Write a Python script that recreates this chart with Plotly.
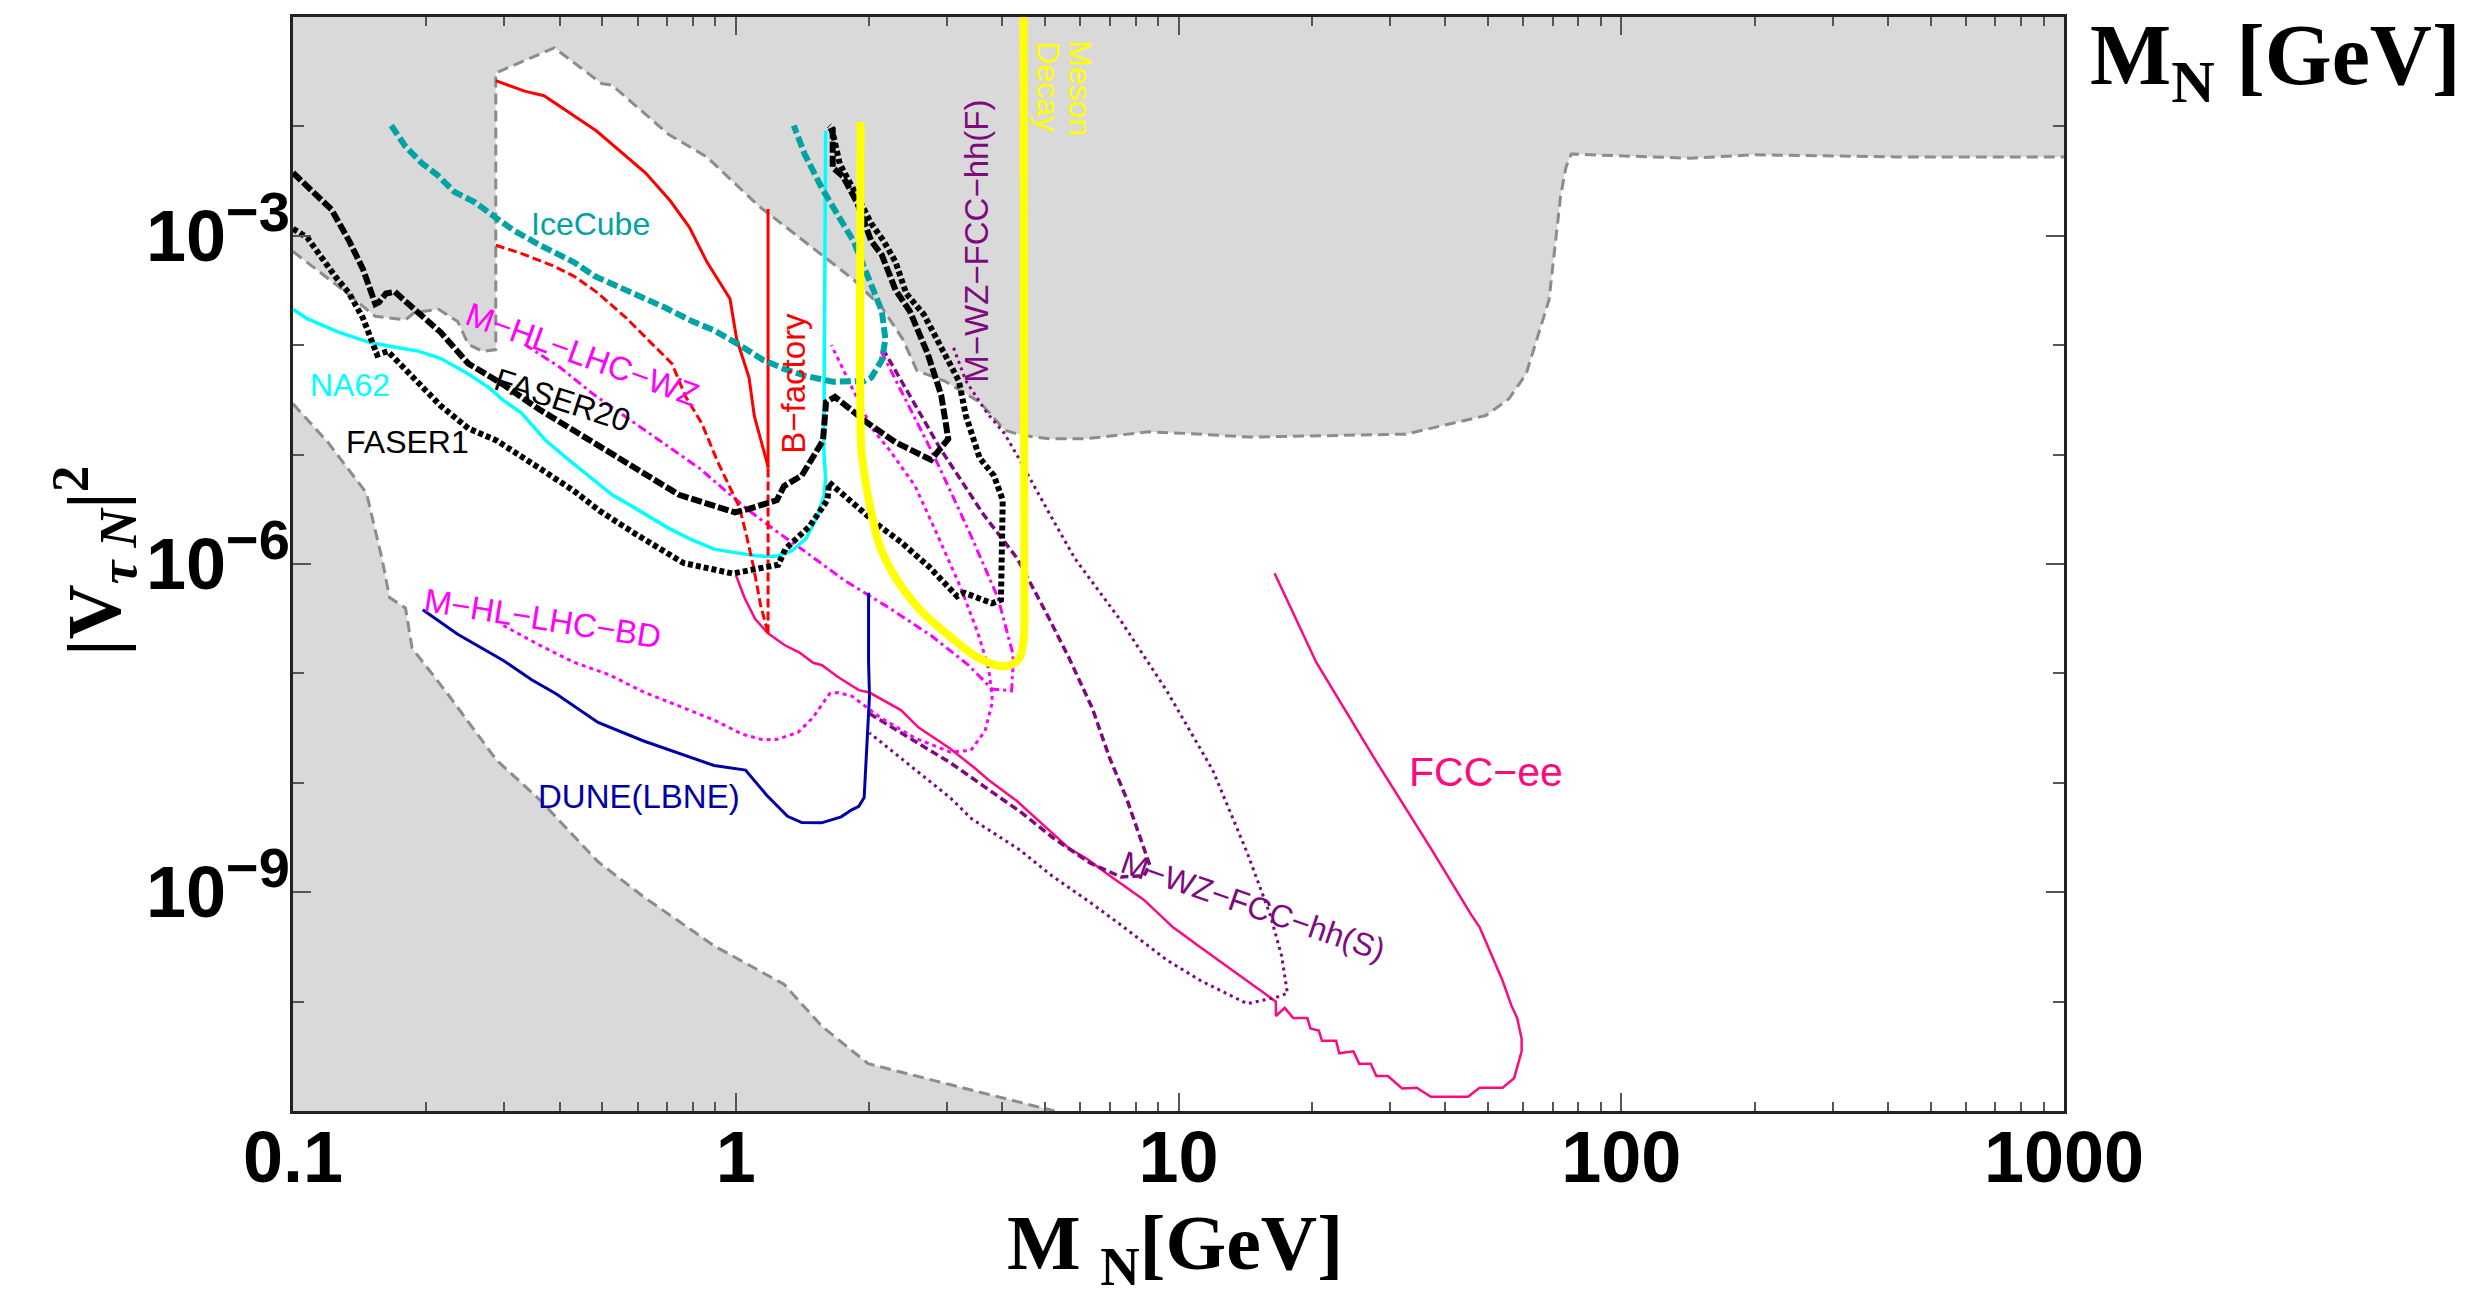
import plotly.graph_objects as go

# Curves are stored as log10(M_N / GeV) and log10(|V_tauN|^2) pairs.

# Excluded region (upper grey band): lower edge of the band
UPPER_LM = [-1.0, -0.897, -0.814, -0.746, -0.727, -0.671, -0.628, -0.604, -0.572, -0.542,
            -0.542, -0.410, -0.303, -0.279, -0.152, -0.065, 0.052, 0.203, 0.266, 0.330,
            0.377, 0.409, 0.472, 0.551, 0.607, 0.646, 0.710, 0.789, 0.932, 1.027, 1.160,
            1.513, 1.694, 1.746, 1.785, 1.837, 1.863, 1.875, 1.887, 2.156, 2.297, 2.625, 3.0]
UPPER_LV = [-3.144, -3.464, -3.736, -3.768, -3.704, -3.672, -3.784, -3.992, -4.056, -4.04,
            -1.512, -1.282, -1.608, -1.624, -2.072, -2.28, -2.728, -3.208, -3.40, -3.656,
            -3.944, -4.232, -4.328, -4.52, -4.776, -4.824, -4.856, -4.856, -4.792, -4.808, -4.84,
            -4.813, -4.643, -4.492, -4.265, -3.584, -2.639, -2.374, -2.253, -2.291, -2.260, -2.279, -2.279]

# Excluded region (lower-left grey band): upper edge of the band
LOWER_LM = [-1.0, -0.921, -0.834, -0.798, -0.782, -0.746, -0.731, -0.651, -0.540, -0.445,
            -0.311, -0.208, -0.049, 0.109, 0.195, 0.299, 0.481, 0.72]
LOWER_LV = [-4.536, -4.888, -5.352, -5.97, -6.306, -6.402, -6.77, -7.186, -7.794, -8.146,
            -8.722, -9.042, -9.49, -9.842, -10.227, -10.567, -10.756, -11.0]

ICECUBE_LM = [-0.778, -0.746, -0.707, -0.675, -0.635, -0.588, -0.540, -0.501, -0.445, -0.366,
              -0.319, -0.255, -0.208, -0.160, -0.097, -0.049, 0.006, 0.062, 0.109, 0.157,
              0.219, 0.290, 0.306, 0.330, 0.338, 0.330, 0.298, 0.266, 0.242, 0.195, 0.155, 0.131]
ICECUBE_LV = [-1.992, -2.184, -2.344, -2.44, -2.6, -2.696, -2.84, -2.952, -3.08, -3.24,
              -3.368, -3.48, -3.56, -3.656, -3.784, -3.864, -3.992, -4.136, -4.216, -4.28,
              -4.334, -4.328, -4.296, -4.136, -3.944, -3.688, -3.368, -3.048, -2.888, -2.568, -2.248, -1.992]

NA62_LM = [-1.0, -0.968, -0.897, -0.826, -0.762, -0.715, -0.667, -0.604, -0.556, -0.525,
           -0.485, -0.429, -0.382, -0.342, -0.311, -0.279, -0.231, -0.192, -0.152, -0.105,
           -0.049, -0.002, 0.054, 0.093, 0.127, 0.159, 0.183, 0.199, 0.203, 0.199, 0.201, 0.203]
NA62_LV = [-3.672, -3.758, -3.88, -3.976, -4.024, -4.056, -4.12, -4.264, -4.392, -4.504,
           -4.616, -4.872, -5.032, -5.16, -5.256, -5.368, -5.48, -5.576, -5.672, -5.768,
           -5.864, -5.896, -5.928, -5.93, -5.879, -5.767, -5.575, -5.383, -5.223, -4.967, -3.88, -2.04]

FASER20_LM = [-1.0, -0.913, -0.873, -0.842, -0.814, -0.806, -0.790, -0.770, -0.739, -0.667,
              -0.604, -0.525, -0.445, -0.366, -0.287, -0.208, -0.128, -0.065, -0.002, 0.030,
              0.093, 0.109, 0.149, 0.197, 0.204, 0.224, 0.298, 0.361, 0.441, 0.480, 0.464,
              0.433, 0.393, 0.361, 0.330, 0.306, 0.274, 0.242, 0.219, 0.219, 0.211]
FASER20_LV = [-2.424, -2.76, -3.048, -3.304, -3.624, -3.608, -3.528, -3.512, -3.624, -3.88,
              -4.168, -4.36, -4.584, -4.776, -4.968, -5.16, -5.368, -5.448, -5.528, -5.496,
              -5.416, -5.288, -5.192, -4.872, -4.52, -4.472, -4.712, -4.888, -5.048, -4.856, -4.456,
              -4.072, -3.688, -3.496, -3.176, -3.048, -2.696, -2.456, -2.376, -2.024, -1.992]

FASER1_LM = [-1.0, -0.968, -0.905, -0.873, -0.842, -0.818, -0.810, -0.786, -0.723, -0.667,
             -0.604, -0.540, -0.445, -0.366, -0.3085, -0.229, -0.118, -0.007, 0.096, 0.112,
             0.167, 0.207, 0.211, 0.286, 0.325, 0.373, 0.436, 0.500, 0.516, 0.579, 0.599,
             0.603, 0.583, 0.551, 0.520, 0.504, 0.472, 0.425, 0.385, 0.361, 0.334, 0.306,
             0.282, 0.258, 0.235, 0.219, 0.211]
FASER1_LV = [-2.936, -3.016, -3.368, -3.528, -3.752, -4.024, -4.088, -4.056, -4.328, -4.552,
             -4.76, -4.872, -5.12, -5.33, -5.511, -5.719, -5.991, -6.087, -6.007, -5.863,
             -5.655, -5.415, -5.255, -5.527, -5.655, -5.799, -6.023, -6.295, -6.263, -6.359, -6.327,
             -5.415, -5.192, -5.032, -4.648, -4.328, -4.072, -3.72, -3.528, -3.24, -3.048, -2.888,
             -2.696, -2.504, -2.344, -2.056, -1.992]

BFACT_LM = [-0.542, -0.477, -0.433, -0.374, -0.315, -0.204, -0.148, -0.105, -0.065, -0.013,
            0.002, 0.030, 0.042, 0.073]
BFACT_LV = [-1.582, -1.678, -1.72, -1.88, -2.04, -2.424, -2.68, -2.92, -3.24, -3.576,
            -3.944, -4.296, -4.648, -5.11]
BFACT_EDGE_LM = [0.073, 0.073]
BFACT_EDGE_LV = [-2.754, -5.128]
BFACT_TAIL_LM = [0.073, 0.073]
BFACT_TAIL_LV = [-5.128, -6.631]

HLWZ_RED_LM = [-0.542, -0.485, -0.414, -0.366, -0.315, -0.247, -0.192, -0.144, -0.113, -0.077,
               -0.041, -0.015, 0.008, 0.024, 0.040, 0.056, 0.073]
HLWZ_RED_LV = [-3.086, -3.16, -3.272, -3.368, -3.512, -3.752, -3.976, -4.168, -4.472, -4.712,
               -5.064, -5.287, -5.479, -5.735, -6.023, -6.375, -6.631]

MESON_LM = [0.282, 0.282, 0.284, 0.290, 0.302, 0.325, 0.365, 0.421, 0.484, 0.547, 0.603,
            0.639, 0.650, 0.652, 0.650]
MESON_LV = [-1.96, -4.8, -4.967, -5.159, -5.447, -5.831, -6.151, -6.439, -6.663, -6.855, -6.935,
            -6.871, -6.695, -6.247, -0.9]

DUNE_LM = [-0.707, -0.628, -0.525, -0.461, -0.406, -0.311, -0.208, -0.128, -0.049, 0.022,
           0.070, 0.117, 0.149, 0.194, 0.238, 0.262, 0.278, 0.290, 0.298, 0.302, 0.300, 0.300]
DUNE_LV = [-6.418, -6.642, -6.882, -7.058, -7.186, -7.448, -7.618, -7.73, -7.842, -7.884,
           -8.114, -8.306, -8.364, -8.366, -8.311, -8.247, -8.215, -8.135, -7.527, -7.207, -6.887, -6.263]

FCCEE_LM = [0.0005, 0.020, 0.044, 0.072, 0.111, 0.143, 0.175, 0.195, 0.230, 0.278, 0.302,
            0.373, 0.413, 0.484, 0.539, 0.571, 0.635, 0.674, 0.753, 0.793, 0.841, 0.922, 0.987,
            1.051, 1.116, 1.181, 1.220, 1.220, 1.240, 1.259, 1.291, 1.298, 1.317, 1.324, 1.356,
            1.363, 1.395, 1.408, 1.434, 1.447, 1.473, 1.505, 1.538, 1.570, 1.654, 1.680, 1.732,
            1.758, 1.775, 1.775, 1.765, 1.752, 1.732, 1.680, 1.661, 1.570, 1.441, 1.311, 1.217]
FCCEE_LV = [-6.103, -6.311, -6.503, -6.631, -6.743, -6.807, -6.903, -6.925, -7.031, -7.153, -7.175,
            -7.335, -7.495, -7.687, -7.863, -7.975, -8.167, -8.311, -8.599, -8.695, -8.839, -9.07, -9.319,
            -9.508, -9.697, -9.886, -10.0, -10.132, -10.057, -10.151, -10.151, -10.246, -10.265, -10.359, -10.359,
            -10.472, -10.454, -10.567, -10.567, -10.681, -10.681, -10.794, -10.787, -10.87, -10.87, -10.787, -10.787,
            -10.7, -10.454, -10.34, -10.151, -10.037, -9.81, -9.319, -9.205, -8.6, -7.768, -6.898, -6.085]

HLWZ_LM = [-0.477, -0.398, -0.319, -0.239, -0.160, -0.081, -0.017, 0.030, 0.093, 0.149, 0.246,
           0.349, 0.444, 0.524, 0.579, 0.623, 0.627, 0.624, 0.592, 0.527, 0.449, 0.326]
HLWZ_LV = [-3.992, -4.2, -4.456, -4.68, -4.904, -5.128, -5.352, -5.512, -5.704, -5.864, -6.151,
           -6.407, -6.663, -6.919, -7.143, -7.159, -6.887, -6.791, -6.307, -5.702, -5.021, -4.038]

HLBD_LM = [-0.525, -0.445, -0.366, -0.287, -0.208, -0.128, -0.049, 0.014, 0.062, 0.094, 0.141,
           0.173, 0.212, 0.230, 0.262, 0.325, 0.405, 0.484, 0.531, 0.563, 0.579, 0.579, 0.571,
           0.547, 0.508, 0.452, 0.405, 0.349, 0.307, 0.216]
HLBD_LV = [-6.562, -6.738, -6.898, -7.01, -7.17, -7.298, -7.426, -7.554, -7.608, -7.602, -7.538,
           -7.41, -7.186, -7.175, -7.207, -7.399, -7.591, -7.719, -7.703, -7.527, -7.271, -7.207, -6.951,
           -6.631, -6.215, -5.703, -5.287, -4.967, -4.757, -4.0]

FCCHH_S_LM = [0.302, 0.405, 0.484, 0.563, 0.642, 0.722, 0.801, 0.870, 0.922, 0.935, 0.915, 0.883,
              0.844, 0.805, 0.753, 0.701, 0.636, 0.560, 0.462, 0.333]
FCCHH_S_LV = [-7.367, -7.62, -7.815, -8.039, -8.263, -8.519, -8.735, -8.86, -8.85, -8.752, -8.525, -8.147,
              -7.768, -7.315, -6.861, -6.445, -5.95, -5.55, -4.946, -4.038]

FCCHH_F_LM = [0.492, 0.520, 0.567, 0.607, 0.639, 0.678, 0.718, 0.766, 0.870, 0.974, 1.077, 1.155,
              1.207, 1.233, 1.246, 1.220, 1.155, 1.051, 0.974, 0.870, 0.801, 0.714, 0.642, 0.533,
              0.484, 0.405, 0.302]
FCCHH_F_LV = [-4.024, -4.328, -4.616, -4.808, -5.032, -5.32, -5.608, -5.95, -6.52, -7.163, -7.882, -8.638,
              -9.205, -9.584, -9.924, -9.962, -10.019, -9.811, -9.621, -9.30, -9.095, -8.85, -8.615, -8.33,
              -8.135, -7.879, -7.543]

X_TICKS = [0.1, 1, 10, 100, 1000]
X_TICK_TEXT = ["0.1", "1", "10", "100", "1000"]
Y_TICKS = [1e-9, 1e-6, 1e-3]
Y_TICK_TEXT = ["10<sup><span style='font-size:56px'>\u22129</span></sup>",
               "10<sup><span style='font-size:56px'>\u22126</span></sup>",
               "10<sup><span style='font-size:56px'>\u22123</span></sup>"]

GREY_FILL = "#d9d9d9"
GREY_EDGE = "#8c8c8c"


def lin(vals):
    return [10 ** v for v in vals]


fig = go.Figure()

# shaded excluded regions
fig.add_trace(go.Scatter(
    x=lin([-1.0] + UPPER_LM + [3.0, -1.0]), y=lin([-1.0] + UPPER_LV + [-1.0, -1.0]),
    mode="lines", fill="toself", fillcolor=GREY_FILL, line=dict(width=0), hoverinfo="skip"))
fig.add_trace(go.Scatter(
    x=lin(LOWER_LM + [-1.0]), y=lin(LOWER_LV + [-11.0]),
    mode="lines", fill="toself", fillcolor=GREY_FILL, line=dict(width=0), hoverinfo="skip"))
for lm, lv in [(UPPER_LM, UPPER_LV), (LOWER_LM, LOWER_LV)]:
    fig.add_trace(go.Scatter(x=lin(lm), y=lin(lv), mode="lines",
                             line=dict(color=GREY_EDGE, width=3, dash="11px,6px")))


def curve(lm, lv, color, width, dash="solid", shape="linear"):
    fig.add_trace(go.Scatter(x=lin(lm), y=lin(lv), mode="lines",
                             line=dict(color=color, width=width, dash=dash, shape=shape)))


curve(FCCEE_LM, FCCEE_LV, "#ff0a7e", 2.5)
curve(FCCHH_F_LM, FCCHH_F_LV, "#7f0a7f", 3, "3px,4px")
curve(FCCHH_S_LM, FCCHH_S_LV, "#7f0a7f", 3.5, "8px,4px")
curve(HLBD_LM, HLBD_LV, "#ff00ff", 3, "4px,4px")
curve(HLWZ_LM, HLWZ_LV, "#ff00ff", 3, "9px,4px,3px,4px")
curve(DUNE_LM, DUNE_LV, "#0000a8", 3)
curve(NA62_LM, NA62_LV, "#00ffff", 3.5)
curve(HLWZ_RED_LM, HLWZ_RED_LV, "#ff0000", 3, "9px,4px")
curve(BFACT_TAIL_LM, BFACT_TAIL_LV, "#ff0000", 3, "9px,4px")
curve(BFACT_LM, BFACT_LV, "#ff0000", 3)
curve(BFACT_EDGE_LM, BFACT_EDGE_LV, "#ff0000", 3)
curve(ICECUBE_LM, ICECUBE_LV, "#00a3a3", 6, "11px,4px")
curve(FASER1_LM, FASER1_LV, "#000000", 6, "5px,3px")
curve(FASER20_LM, FASER20_LV, "#000000", 6, "11px,3px")
curve(MESON_LM, MESON_LV, "#ffff00", 8, shape="spline")

# curve labels (positions in log10 units on the log axes)
LABEL_FONT = "Liberation Sans"
labels = [
    ("IceCube", -0.327, -2.89, "#00a3a3", 32, 0),
    ("NA62", -0.871, -4.36, "#00ffff", 32, 0),
    ("FASER1", -0.741, -4.889, "#000000", 32, 0),
    ("FASER20", -0.392, -4.505, "#000000", 32, 18),
    ("M\u2212HL\u2212LHC\u2212WZ", -0.346, -4.088, "#ff00ff", 33, 20),
    ("B\u2212factory", 0.131, -4.345, "#ff0000", 33, -90),
    ("M\u2212HL\u2212LHC\u2212BD", -0.4355, -6.499, "#ff00ff", 33, 9),
    ("DUNE(LBNE)", -0.2176, -8.121, "#0000a8", 33, 0),
    ("FCC\u2212ee", 1.694, -7.90, "#ff0a7e", 41, 0),
    ("M\u2212WZ\u2212FCC\u2212hh(S)", 1.168, -9.122, "#7f0a7f", 32, 19),
    ("M\u2212WZ\u2212FCC\u2212hh(F)", 0.542, -3.048, "#7f0a7f", 33, -90),
    ("Meson", 0.7785, -1.655, "#ffff00", 32, 90),
    ("Decay", 0.7062, -1.637, "#ffff00", 32, 90),
]
for text, ax_, ay_, col, size, ang in labels:
    fig.add_annotation(x=ax_, y=ay_, xref="x", yref="y", text=text, showarrow=False,
                       textangle=ang, font=dict(family=LABEL_FONT, size=size, color=col),
                       xanchor="center", yanchor="middle")

# axis titles
SERIF = "Liberation Serif"
fig.add_annotation(x=0.498, y=-0.125, xref="paper", yref="paper",
                   text="<b>M <sub>N</sub>[GeV]</b>", showarrow=False,
                   font=dict(family=SERIF, size=78, color="black"),
                   xanchor="center", yanchor="middle")
fig.add_annotation(x=-0.1124, y=0.5027, xref="paper", yref="paper",
                   text="<b>|V<sub><i>\u03c4 N</i></sub>|<sup>2</sup></b>", showarrow=False,
                   textangle=-90, font=dict(family=SERIF, size=76, color="black"),
                   xanchor="center", yanchor="middle")
fig.add_annotation(x=1.0135, y=0.96, xref="paper", yref="paper",
                   text="<b>M<sub>N</sub> [GeV]</b>", showarrow=False,
                   font=dict(family=SERIF, size=86, color="black"),
                   xanchor="left", yanchor="middle")

minor_x = [m * 10 ** e for e in (-1, 0, 1, 2) for m in range(2, 10)]
minor_y = [10.0 ** e for e in (-11, -10, -8, -7, -5, -4, -2, -1)]

tick_font = dict(family="Liberation Sans", size=72, color="black", weight="bold")
fig.update_layout(
    width=2485, height=1298,
    margin=dict(l=293, r=421, t=17, b=187),
    paper_bgcolor="white", plot_bgcolor="white",
    showlegend=False,
    xaxis=dict(type="log", range=[-1, 3], showgrid=False, zeroline=False,
               showline=True, linecolor="#222222", linewidth=2.5, mirror="allticks",
               ticks="inside", ticklen=18, tickwidth=1.5, tickcolor="#555555",
               ticklabelstandoff=-18,
               tickmode="array", tickvals=X_TICKS, ticktext=X_TICK_TEXT, tickfont=tick_font,
               minor=dict(ticks="inside", ticklen=9, tickwidth=1.5, tickcolor="#555555",
                          tickmode="array", tickvals=minor_x, showgrid=False)),
    yaxis=dict(type="log", range=[-11, -1], showgrid=False, zeroline=False,
               showline=True, linecolor="#222222", linewidth=2.5, mirror="allticks",
               ticks="inside", ticklen=18, tickwidth=1.5, tickcolor="#555555",
               ticklabelstandoff=-14,
               tickmode="array", tickvals=Y_TICKS, ticktext=Y_TICK_TEXT, tickfont=tick_font,
               minor=dict(ticks="inside", ticklen=11, tickwidth=1.5, tickcolor="#555555",
                          tickmode="array", tickvals=minor_y, showgrid=False)),
)

fig.write_html("out.html")
